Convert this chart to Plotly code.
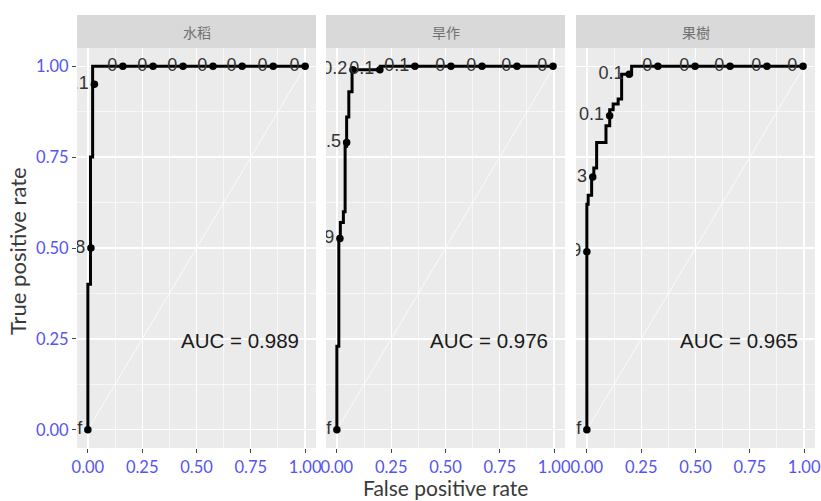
import plotly.graph_objects as go

# ---------------- data ----------------
categories = ["水稻", "旱作", "果樹"]
auc_values = [0.989, 0.976, 0.965]

# ROC step vertices (vertical-then-horizontal steps)
rice_fpr = [0.0, 0.012, 0.022, 1.0]
rice_tpr = [0.0, 0.40, 0.75, 1.0]

dry_fpr = [0.0, 0.009, 0.016, 0.03, 0.038, 0.045, 0.055, 0.07, 0.2, 1.0]
dry_tpr = [0.0, 0.23, 0.53, 0.57, 0.60, 0.78, 0.86, 0.93, 0.99, 1.0]

fruit_fpr = [0.0, 0.006, 0.022, 0.032, 0.045, 0.088, 0.105, 0.121, 0.144, 0.16, 0.206, 1.0]
fruit_tpr = [0.0, 0.62, 0.645, 0.695, 0.72, 0.79, 0.836, 0.88, 0.896, 0.91, 0.978, 1.0]

# cutoff points and their labels
rice_pt_fpr = [0.0, 0.014, 0.03, 0.161, 0.30, 0.438, 0.576, 0.71, 0.853, 1.0]
rice_pt_tpr = [0.0, 0.50, 0.95, 1, 1, 1, 1, 1, 1, 1]
rice_pt_lab = ["Inf", "0.8", "0.1", "0", "0", "0", "0", "0", "0", "0"]

dry_pt_fpr = [0.0, 0.014, 0.045, 0.074, 0.198, 0.359, 0.525, 0.668, 0.829, 0.995]
dry_pt_tpr = [0.0, 0.526, 0.79, 0.99, 0.99, 1, 1, 1, 1, 1]
dry_pt_lab = ["Inf", "0.9", "0.5", "0.2", "0.1", "0.1", "0", "0", "0", "0"]

fruit_pt_fpr = [0.0, 0.0, 0.027, 0.105, 0.195, 0.327, 0.498, 0.659, 0.829, 0.995]
fruit_pt_tpr = [0.0, 0.49, 0.695, 0.864, 0.978, 1, 1, 1, 1, 1]
fruit_pt_lab = ["Inf", "0.9", "0.3", "0.1", "0.1", "0", "0", "0", "0", "0"]

diag = [0, 1]

tick_vals = [0, 0.25, 0.5, 0.75, 1.0]
tick_text = ["0.00", "0.25", "0.50", "0.75", "1.00"]

x_title = "False positive rate"
y_title = "True positive rate"

# ---------------- figure ----------------
W, H = 821, 501
ml, mr, mt, mb = 77, 6, 15, 53
pw = W - ml - mr
ph = H - mt - mb
panel_px = [(0, 239), (249, 488), (499, 738)]
domains = [[a / pw, b / pw] for a, b in panel_px]
ytop = 400 / ph

curves = [(rice_fpr, rice_tpr), (dry_fpr, dry_tpr), (fruit_fpr, fruit_tpr)]
points = [(rice_pt_fpr, rice_pt_tpr, rice_pt_lab),
          (dry_pt_fpr, dry_pt_tpr, dry_pt_lab),
          (fruit_pt_fpr, fruit_pt_tpr, fruit_pt_lab)]

fig = go.Figure()
for i in range(3):
    xa = "x" if i == 0 else f"x{i+1}"
    ya = "y" if i == 0 else f"y{i+1}"
    fig.add_trace(go.Scatter(x=diag, y=diag, mode="lines", xaxis=xa, yaxis=ya,
                             line=dict(color="white", width=0.8), hoverinfo="skip",
                             showlegend=False))
    fx, fy = curves[i]
    fig.add_trace(go.Scatter(x=fx, y=fy, mode="lines", xaxis=xa, yaxis=ya,
                             line=dict(color="black", width=3, shape="vh"),
                             hoverinfo="skip", showlegend=False))
    px_, py_, pl_ = points[i]
    fig.add_trace(go.Scatter(x=px_, y=py_, mode="markers+text", xaxis=xa, yaxis=ya,
                             text=pl_, textposition="middle left",
                             textfont=dict(family="Liberation Sans", size=18, color="#333333"),
                             marker=dict(color="black", size=7.5),
                             cliponaxis=True, hoverinfo="skip", showlegend=False))

axis_common = dict(range=[-0.05, 1.05], tickvals=tick_vals, ticktext=tick_text,
                   showgrid=True, gridcolor="white", gridwidth=1.3, zeroline=False,
                   ticks="outside", ticklen=4, tickwidth=1, tickcolor="#444444",
                   tickfont=dict(family="Lato", size=16.5, color="#5454F4"),
                   minor=dict(dtick=0.125, tick0=0, showgrid=True, gridcolor="white",
                              gridwidth=0.6),
                   showline=False, fixedrange=True, automargin=False)

layout = dict(width=W, height=H, margin=dict(l=ml, r=mr, t=mt, b=mb, autoexpand=False),
              paper_bgcolor="white", plot_bgcolor="#EBEBEB", showlegend=False,
              hovermode=False)
for i in range(3):
    xk = "xaxis" if i == 0 else f"xaxis{i+1}"
    yk = "yaxis" if i == 0 else f"yaxis{i+1}"
    xa_anchor = "y" if i == 0 else f"y{i+1}"
    ya_anchor = "x" if i == 0 else f"x{i+1}"
    layout[xk] = dict(axis_common, domain=domains[i], anchor=xa_anchor)
    yd = dict(axis_common, domain=[0, ytop], anchor=ya_anchor)
    if i > 0:
        yd.update(showticklabels=False, ticks="")
    layout[yk] = yd
fig.update_layout(**layout)

shapes = []
annotations = []
for i in range(3):
    shapes.append(dict(type="rect", xref="paper", yref="paper",
                       x0=domains[i][0], x1=domains[i][1], y0=ytop, y1=1.0,
                       fillcolor="#D9D9D9", line=dict(width=0), layer="below"))
    annotations.append(dict(text=categories[i], xref="paper", yref="paper",
                            x=(domains[i][0] + domains[i][1]) / 2, y=(ytop + 1) / 2,
                            showarrow=False, xanchor="center", yanchor="middle",
                            font=dict(family="Noto Sans CJK TC", size=14, color="#707070")))
    xr = "x" if i == 0 else f"x{i+1}"
    yr = "y" if i == 0 else f"y{i+1}"
    annotations.append(dict(text=f"AUC = {auc_values[i]:.3f}", xref=xr, yref=yr,
                            x=0.70, y=0.245, showarrow=False,
                            xanchor="center", yanchor="middle",
                            font=dict(family="Liberation Sans", size=20.5, color="#1A1A1A")))

annotations.append(dict(text=x_title, xref="paper", yref="paper",
                        x=(445 - ml) / pw, y=-(487 - 448) / ph, showarrow=False,
                        xanchor="center", yanchor="middle",
                        font=dict(family="Lato", size=21, color="#3A3A3A")))
annotations.append(dict(text=y_title, xref="paper", yref="paper",
                        x=(17 - ml) / pw, y=(448 - 251) / ph, showarrow=False,
                        textangle=-90, xanchor="center", yanchor="middle",
                        font=dict(family="Lato", size=22, color="#3A3A3A")))
fig.update_layout(shapes=shapes, annotations=annotations)

fig.write_html("out.html", config={"displayModeBar": False, "staticPlot": True},
               post_script="document.body.style.margin='0';document.body.style.padding='0';")
